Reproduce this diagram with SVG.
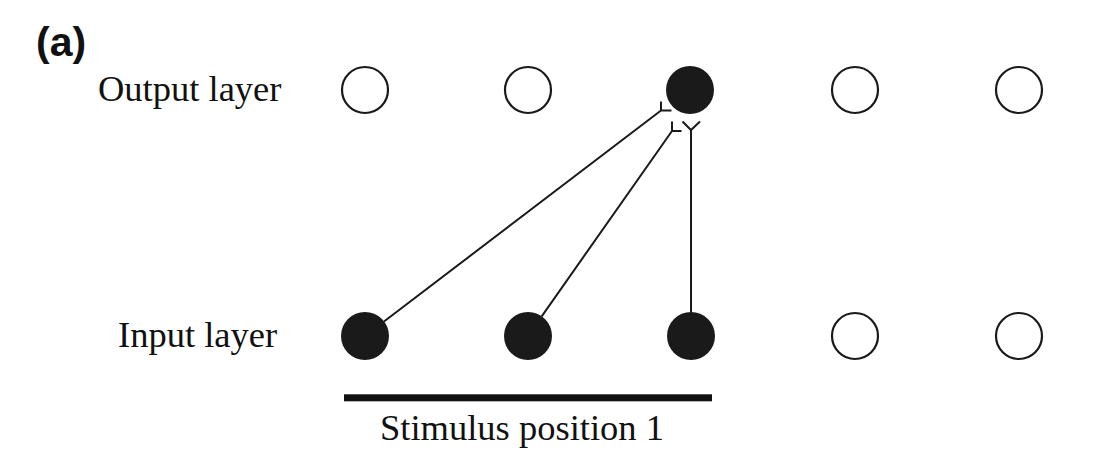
<svg xmlns="http://www.w3.org/2000/svg" width="1101" height="464" viewBox="0 0 1101 464">
<style>
.open{fill:#fff;stroke:#1a1a1a;stroke-width:2.2}
.on{fill:#1a1a1a;stroke:none}
.lbl{font-family:"Liberation Serif","Times New Roman",serif;font-size:36.5px;fill:#111}
.conn{fill:none;stroke:#1a1a1a;stroke-width:2}
</style>
<rect width="1101" height="464" fill="#fff"/>
<text x="36" y="56" font-family="Liberation Sans, Arial, sans-serif" font-weight="bold" font-size="41" fill="#111">(a)</text>
<text class="lbl" x="98" y="101">Output layer</text>
<text class="lbl" x="118" y="347">Input layer</text>
<g id="connectors">
<path class="conn" d="M384,321.5 L661,110.5 M661,101.5 L661,110.5 L671.5,110.5"/>
<path class="conn" d="M541.7,316.3 L672,131 M672,121.5 L672,131 L681.5,131"/>
<path class="conn" d="M691,312 L691,130 M682.5,121.5 L691,130 L700,121.5"/>
</g>
<g id="out1"><circle class="open" cx="365" cy="90" r="23"/></g>
<g id="out2"><circle class="open" cx="528" cy="90" r="23"/></g>
<g id="out3"><circle class="on" cx="690" cy="90" r="24"/></g>
<g id="out4"><circle class="open" cx="855" cy="90" r="23"/></g>
<g id="out5"><circle class="open" cx="1019" cy="90" r="23"/></g>
<g id="in1"><circle class="on" cx="365" cy="336" r="24"/></g>
<g id="in2"><circle class="on" cx="528" cy="336" r="24"/></g>
<g id="in3"><circle class="on" cx="691" cy="336" r="24"/></g>
<g id="in4"><circle class="open" cx="855" cy="336" r="23"/></g>
<g id="in5"><circle class="open" cx="1019" cy="336" r="23"/></g>
<g id="stimulus">
<rect x="344" y="394.3" width="368" height="7" fill="#111"/>
<text class="lbl" x="380" y="440">Stimulus position 1</text>
</g>
</svg>
